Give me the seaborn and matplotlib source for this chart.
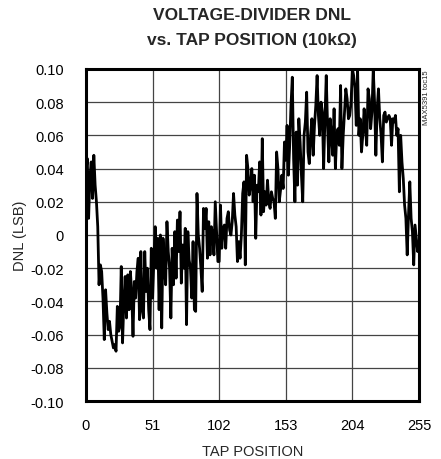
import numpy as np
import pandas as pd
import matplotlib
matplotlib.use("Agg")
import matplotlib.pyplot as plt
import seaborn as sns

# DNL, one value per tap (0..255)
dnl = [
    0.038, 0.046, 0.010, 0.035, 0.044, 0.022, 0.048, 0.030, 0.020, 0.005,
    -0.030, -0.018, -0.022, -0.038, -0.063, -0.033, -0.047, -0.057, -0.052, -0.060,
    -0.064, -0.068, -0.066, -0.070, -0.043, -0.058, -0.055, -0.019, -0.065, -0.040,
    -0.025, -0.050, -0.024, -0.045, -0.022, -0.035, -0.061, -0.028, -0.038, -0.022,
    -0.014, -0.051, -0.010, -0.045, -0.050, -0.010, -0.034, -0.020, -0.045, -0.057,
    -0.008, -0.038, -0.015, 0.005, -0.020, -0.002, -0.045, 0.000, -0.056, -0.002,
    -0.018, -0.030, 0.008, -0.010, -0.020, -0.050, -0.008, -0.030, 0.002, -0.026,
    0.009, -0.010, 0.014, -0.029, -0.006, -0.020, 0.004, -0.054, 0.002, -0.015,
    -0.020, -0.038, -0.004, -0.045, -0.046, 0.025, 0.000, -0.008, -0.020, -0.034,
    0.016, 0.004, 0.016, -0.014, 0.008, -0.012, 0.005, 0.000, -0.012, 0.020,
    0.002, -0.016, -0.016, 0.018, -0.008, 0.004, 0.006, -0.008, 0.010, 0.014,
    0.003, 0.000, 0.008, 0.025, 0.012, 0.005, -0.016, -0.004, -0.014, 0.000,
    0.025, 0.032, -0.018, 0.048, 0.040, 0.024, 0.030, 0.040, 0.020, 0.036,
    -0.002, 0.030, 0.026, 0.044, 0.012, 0.058, 0.014, 0.026, 0.018, 0.033,
    0.020, 0.016, 0.026, 0.022, 0.020, 0.010, 0.050, 0.040, 0.020, 0.027,
    0.036, 0.028, 0.056, 0.045, 0.066, 0.036, 0.054, 0.078, 0.095, 0.046,
    0.020, 0.062, 0.030, 0.070, 0.056, 0.036, 0.020, 0.060, 0.068, 0.086,
    0.050, 0.043, 0.060, 0.070, 0.048, 0.066, 0.078, 0.096, 0.072, 0.060,
    0.080, 0.074, 0.040, 0.070, 0.096, 0.066, 0.044, 0.070, 0.060, 0.048,
    0.076, 0.040, 0.060, 0.064, 0.054, 0.090, 0.040, 0.060, 0.074, 0.088,
    0.082, 0.070, 0.072, 0.080, 0.100, 0.096, 0.088, 0.066, 0.100, 0.060,
    0.070, 0.050, 0.060, 0.076, 0.064, 0.054, 0.088, 0.082, 0.064, 0.074,
    0.100, 0.080, 0.048, 0.076, 0.088, 0.070, 0.060, 0.044, 0.072, 0.074,
    0.068, 0.070, 0.072, 0.070, 0.054, 0.070, 0.068, 0.072, 0.060, 0.064,
    0.026, 0.060, 0.044, 0.034, 0.018, 0.010, -0.012, 0.012, 0.032, 0.010,
    0.002, -0.018, 0.006, -0.002, -0.010, -0.004,
]
tap = list(range(len(dnl)))

x_ticks = [0, 51, 102, 153, 204, 255]
y_ticks = [-0.10, -0.08, -0.06, -0.04, -0.02, 0, 0.02, 0.04, 0.06, 0.08, 0.10]
y_labels = ["-0.10", "-0.08", "-0.06", "-0.04", "-0.02", "0",
            "0.02", "0.04", "0.06", "0.08", "0.10"]

df = pd.DataFrame({"tap": tap, "dnl": dnl})

sns.set_style("white")
plt.rcParams["font.family"] = ["Liberation Sans", "DejaVu Sans"]

fig = plt.figure(figsize=(4.41, 4.60), dpi=100)
ax = fig.add_axes([0.195, 0.126, 0.755, 0.722])

sns.lineplot(data=df, x="tap", y="dnl", color="black", linewidth=2.0, ax=ax)

ax.set_xlim(0, 255)
ax.set_ylim(-0.10, 0.10)
ax.set_xticks(x_ticks)
ax.set_xticklabels([str(t) for t in x_ticks])
ax.set_yticks(y_ticks)
ax.set_yticklabels(y_labels)
ax.tick_params(length=0, labelsize=10.5, colors="black")
ax.tick_params(axis="y", pad=16)
ax.tick_params(axis="x", pad=12)

ax.grid(True, color="#444444", linewidth=0.9)
ax.set_axisbelow(True)
for s in ax.spines.values():
    s.set_visible(True)
    s.set_color("black")
    s.set_linewidth(2.2)

ax.set_xlabel("TAP POSITION", fontsize=10.5, labelpad=9)
ax.set_ylabel("DNL (LSB)", fontsize=10.5, labelpad=2)

fig.text(0.572, 0.966, "VOLTAGE-DIVIDER DNL", ha="center", va="center",
         fontsize=12.5, fontweight="bold")
fig.text(0.572, 0.912, "vs. TAP POSITION (10k\u03a9)", ha="center", va="center",
         fontsize=12.5, fontweight="bold")
fig.text(0.968, 0.848, "MAX5391 toc15", rotation=90, ha="center", va="top",
         fontsize=5.5)

fig.savefig("out.png", dpi=100)
